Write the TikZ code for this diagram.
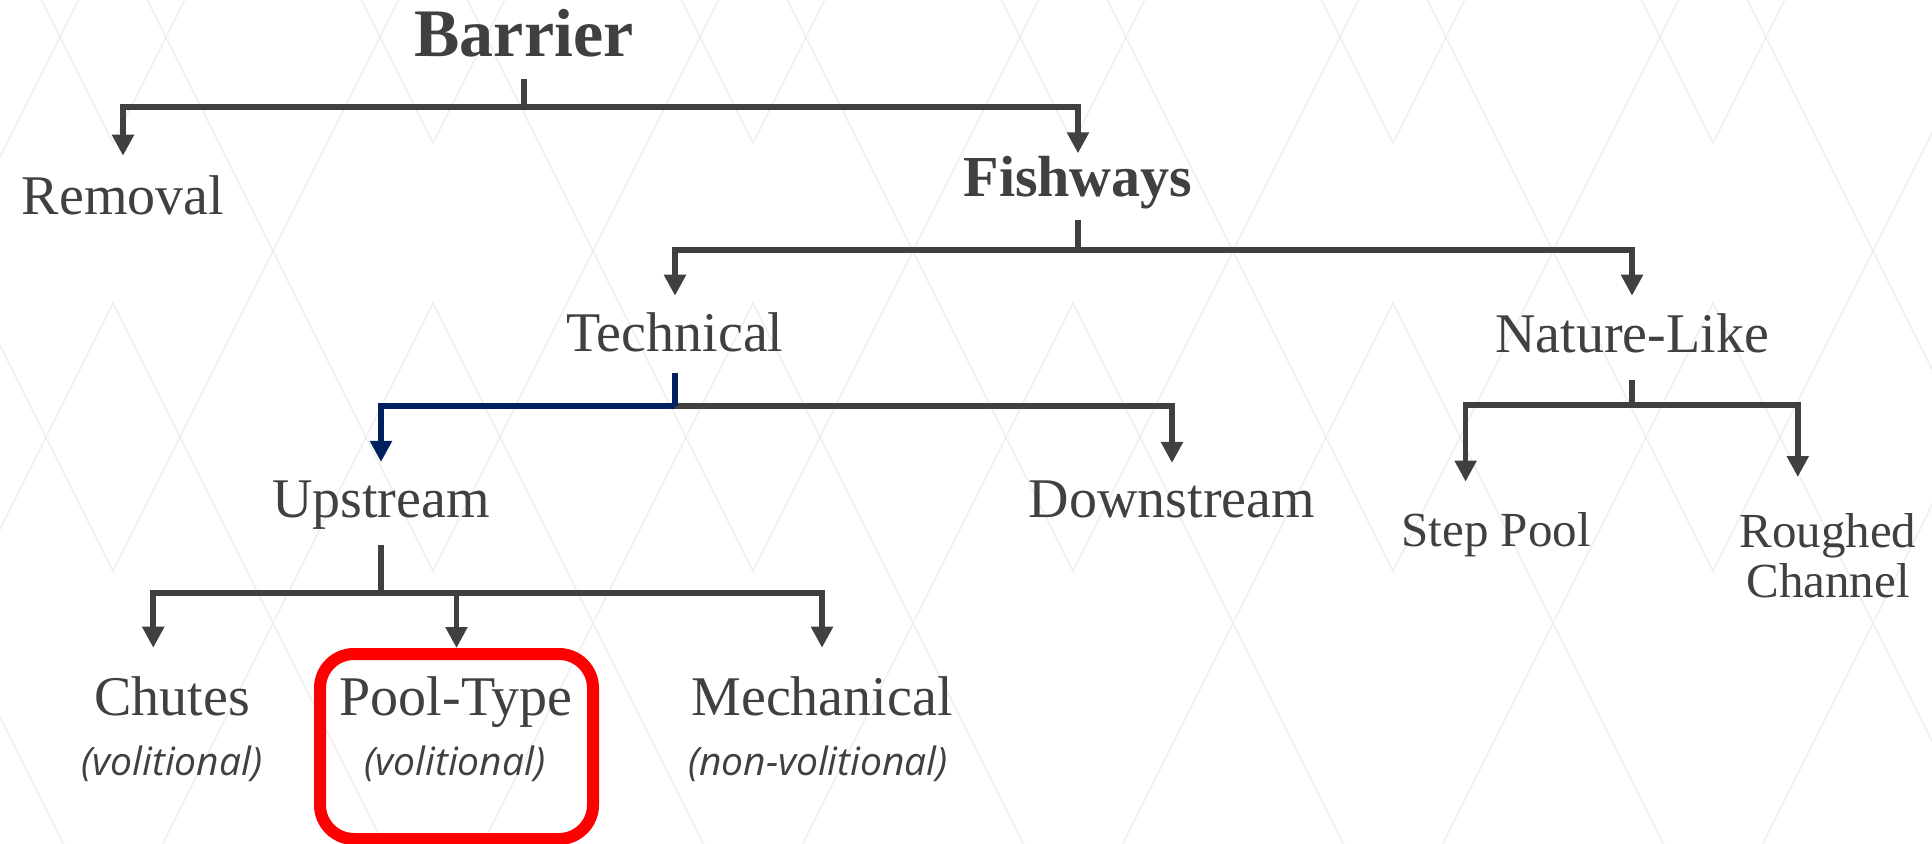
\documentclass[tikz,border=0pt]{standalone}
\usepackage{fontspec}
\setmainfont{Liberation Serif}
\newfontfamily\notefont{Open Sans}
\usetikzlibrary{arrows.meta,calc}

\definecolor{ink}{HTML}{404040}
\definecolor{navy}{HTML}{002060}
\definecolor{pick}{HTML}{FF0000}
\definecolor{zigzag}{HTML}{EEEEEE}

\tikzset{
  lbl/.style={anchor=base, inner xsep=0pt, text=ink, font=\fontsize{28}{30}\selectfont},
  head/.style={lbl, font=\bfseries\fontsize{34}{36}\selectfont},
  small/.style={lbl, font=\fontsize{24.5}{25}\selectfont, align=center},
  note/.style={anchor=base, inner sep=0pt, text=ink, font=\notefont\itshape\fontsize{19.5}{21}\selectfont},
  link/.style={color=ink, line width=2.8pt},
  tip/.style={link, -{Triangle[length=10.5pt,width=10.5pt]}},
}

\begin{document}
\begin{tikzpicture}[x=0.5pt,y=-0.5pt]
  \useasboundingbox (0,0) rectangle (1932,844);
  \fill[white] (0,0) rectangle (1932,844);
  % faint zigzag backdrop
  \begin{scope}
    \clip (0,0) rectangle (1932,844);
    \foreach \c in {-207,113,...,2033}{
      \draw[zigzag, line width=0.75pt] (\c-81.5,-20) -- (\c,143) -- (\c+81.5,-20);
      \draw[zigzag, line width=0.75pt] (\c-295.5,-20) -- (\c,571) -- (\c+295.5,-20);
      \draw[zigzag, line width=0.75pt] (\c-280.5,864) -- (\c,303) -- (\c+280.5,864);
    }
  \end{scope}

  % labels
  \node[head] (barrier) at (524,57) {Barrier};
  \node[lbl, inner ysep=10pt] (removal) at (123,215) {Removal};
  \node[head, font=\bfseries\fontsize{29}{31}\selectfont, inner ysep=1.5pt] (fishways) at (1078,197) {Fishways};
  \node[lbl, inner ysep=8.5pt] (technical) at (675,352) {Technical};
  \node[lbl, inner ysep=9pt] (naturelike) at (1632,353) {Nature-Like};
  \node[lbl, inner ysep=9pt] (upstream) at (381,517) {Upstream};
  \node[lbl, inner ysep=8.5pt] (downstream) at (1172,517) {Downstream};
  \node[small, inner ysep=15pt] (steppool) at (1496,546) {Step Pool};
  \node[small, anchor=north, inner ysep=18pt] (roughed) at (1828,477) {Roughed\\Channel};
  \node[lbl, inner ysep=14pt] (chutes) at (172,715) {Chutes};
  \node[lbl] (pooltype) at (456,715) {Pool-Type};
  \node[lbl, inner ysep=14pt] (mechanical) at (822,715) {Mechanical};
  \node[note] (chutesnote) at (172,775) {(volitional)};
  \node[note] (poolnote) at (455,775) {(volitional)};
  \node[note] (mechnote) at (818,775) {(non-volitional)};
  \node[draw=pick, line width=6pt, rounded corners=17pt, minimum width=136.5pt,
        minimum height=92.5pt, inner sep=0pt] (poolbox) at (456.5,746.5) {};

  % Barrier
  \draw[link] (barrier.base) ++(0,22) -- ++(0,28) coordinate (barrierjoin);
  \draw[tip] (barrierjoin) -| (removal.north);
  \draw[tip] (barrierjoin) -| (fishways.north);

  % Fishways
  \draw[link] (fishways.base) ++(0,23) -- ++(0,30) coordinate (fishjoin);
  \draw[tip] (fishjoin) -| (technical.north);
  \draw[tip] (fishjoin) -| (naturelike.north);

  % Technical, upstream branch in navy
  \path (technical.base) ++(0,54) coordinate (techjoin);
  \draw[tip] (techjoin) -| (downstream.north);
  \draw[link, color=navy] (technical.base) ++(0,21) -- (techjoin);
  \draw[tip, color=navy] (techjoin) -| (upstream.north);

  % Nature-Like
  \draw[link] (naturelike.base) ++(0,27) -- ++(0,25) coordinate (naturejoin);
  \draw[tip] (naturejoin) -| ($(steppool.north west)!0.34!(steppool.north east)$);
  \draw[tip] (naturejoin) -| ($(roughed.north west)!0.33!(roughed.north east)$);

  % Upstream
  \draw[link] (upstream.base) ++(0,28) -- ++(0,48) coordinate (upjoin);
  \draw[tip] (upjoin) -| ($(chutes.north west)!0.38!(chutes.north east)$);
  \draw[tip] (upjoin) -| (poolbox.north);
  \draw[tip] (upjoin) -| (mechanical.north);
\end{tikzpicture}
\end{document}
